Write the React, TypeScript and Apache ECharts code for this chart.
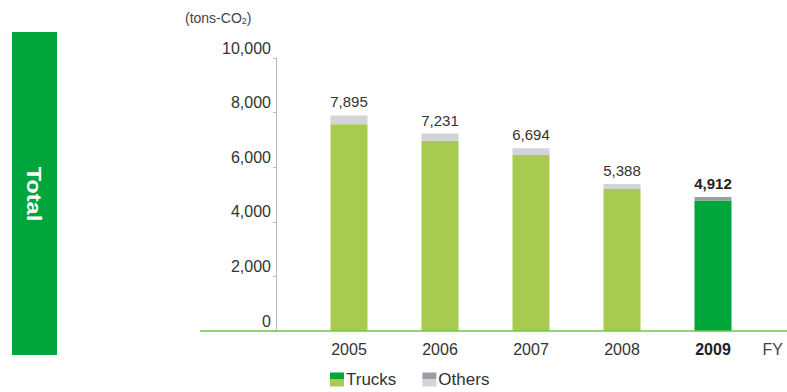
import React, { useEffect, useRef } from "react";
import * as echarts from "echarts";

const categories = ["2005", "2006", "2007", "2008", "2009"];
const totals = [7895, 7231, 6694, 5388, 4912];
const others = [320, 260, 250, 190, 130];
const trucks = [7575, 6971, 6444, 5198, 4782];
const yTicks = [0, 2000, 4000, 6000, 8000, 10000];
const highlightIndex = 4;

const LIGHT_GREEN = "#a6cb50";
const DARK_GREEN = "#00a53b";
const LIGHT_GRAY = "#d2d4d7";
const DARK_GRAY = "#9b9fa4";
const FONT = "'Liberation Sans', Arial, Helvetica, sans-serif";

export default function App() {
  const ref = useRef<HTMLDivElement>(null);
  useEffect(() => {
    if (!ref.current) return;
    const chart = echarts.init(ref.current, null, { renderer: "svg" });
    const fmt = (v: number) => v.toLocaleString("en-US");
    chart.setOption({
      animation: false,
      textStyle: { fontFamily: FONT },
      grid: { left: 303.5, right: 28.5, top: 58, bottom: 61 },
      legend: {
        left: 325,
        top: 366,
        icon: "rect",
        itemWidth: 14,
        itemHeight: 14,
        itemGap: 26,
        textStyle: { fontSize: 17, color: "#333", fontFamily: FONT, padding: [0, 0, 0, -3] },
        data: [
          {
            name: "Trucks",
            itemStyle: {
              color: new echarts.graphic.LinearGradient(0, 0, 0, 1, [
                { offset: 0, color: DARK_GREEN },
                { offset: 0.5, color: DARK_GREEN },
                { offset: 0.5, color: LIGHT_GREEN },
                { offset: 1, color: LIGHT_GREEN },
              ]),
            },
          },
          {
            name: "Others",
            itemStyle: {
              color: new echarts.graphic.LinearGradient(0, 0, 0, 1, [
                { offset: 0, color: DARK_GRAY },
                { offset: 0.5, color: DARK_GRAY },
                { offset: 0.5, color: LIGHT_GRAY },
                { offset: 1, color: LIGHT_GRAY },
              ]),
            },
          },
        ],
      },
      xAxis: {
        type: "category",
        data: categories,
        axisLine: { show: false },
        axisTick: { show: false },
        axisLabel: {
          fontSize: 16,
          color: "#333",
          margin: 10,
          fontFamily: FONT,
          formatter: (v: string) => (v === categories[highlightIndex] ? "{b|" + v + "}" : v),
          rich: { b: { fontWeight: "bold", fontSize: 16, color: "#222", fontFamily: FONT } },
        },
        name: "FY",
        nameLocation: "end",
        nameGap: 4,
        nameTextStyle: {
          fontSize: 16,
          color: "#444",
          fontFamily: FONT,
          verticalAlign: "top",
          padding: [10, 0, 0, 0],
        },
      },
      yAxis: {
        type: "value",
        min: yTicks[0],
        max: yTicks[yTicks.length - 1],
        interval: 2000,
        offset: 27.5,
        splitLine: { show: false },
        axisLine: { show: true, lineStyle: { color: "#b9bcbf", width: 1 } },
        axisTick: { show: true, length: 3, lineStyle: { color: "#b9bcbf" } },
        axisLabel: {
          fontSize: 16,
          color: "#333",
          margin: 5,
          fontFamily: FONT,
          verticalAlign: "bottom",
          padding: [0, 0, 2, 0],
          formatter: (v: number) => fmt(v),
        },
      },
      series: [
        {
          name: "Trucks",
          type: "bar",
          stack: "t",
          barWidth: 37,
          data: trucks.map((v, i) => ({
            value: v,
            itemStyle: { color: i === highlightIndex ? DARK_GREEN : LIGHT_GREEN },
          })),
        },
        {
          name: "Others",
          type: "bar",
          stack: "t",
          barWidth: 37,
          data: others.map((v, i) => ({
            value: v,
            itemStyle: { color: i === highlightIndex ? DARK_GRAY : LIGHT_GRAY },
            label: i === highlightIndex ? { fontWeight: "bold", color: "#222" } : undefined,
          })),
          label: {
            show: true,
            position: "top",
            distance: 6,
            fontSize: 15,
            color: "#333",
            fontFamily: FONT,
            formatter: (p: any) => fmt(totals[p.dataIndex]),
          },
        },
      ],
      graphic: [
        {
          type: "rect",
          shape: { x: 12, y: 32, width: 45, height: 323 },
          style: { fill: DARK_GREEN },
          silent: true,
        },
        {
          type: "text",
          x: 34,
          y: 194,
          rotation: -Math.PI / 2,
          scaleX: 1.18,
          style: {
            text: "Total",
            fill: "#fff",
            font: "bold 20px " + FONT,
            align: "center",
            verticalAlign: "middle",
          },
        },
        {
          type: "line",
          shape: { x1: 200, y1: 331, x2: 787, y2: 331 },
          style: { stroke: "#6fc64f", lineWidth: 1.5 },
          z: 10,
        },
        {
          type: "text",
          x: 185,
          y: 10,
          style: {
            text: "(tons-CO{s|2})",
            fill: "#444",
            font: "14px " + FONT,
            rich: { s: { fontSize: 9, fill: "#444", verticalAlign: "bottom", padding: [6, 0, 0, 0] } },
          },
        },
      ],
    });
    return () => chart.dispose();
  }, []);
  return <div ref={ref} style={{ width: 787, height: 392, position: "absolute", left: 0, top: 0 }} />;
}
